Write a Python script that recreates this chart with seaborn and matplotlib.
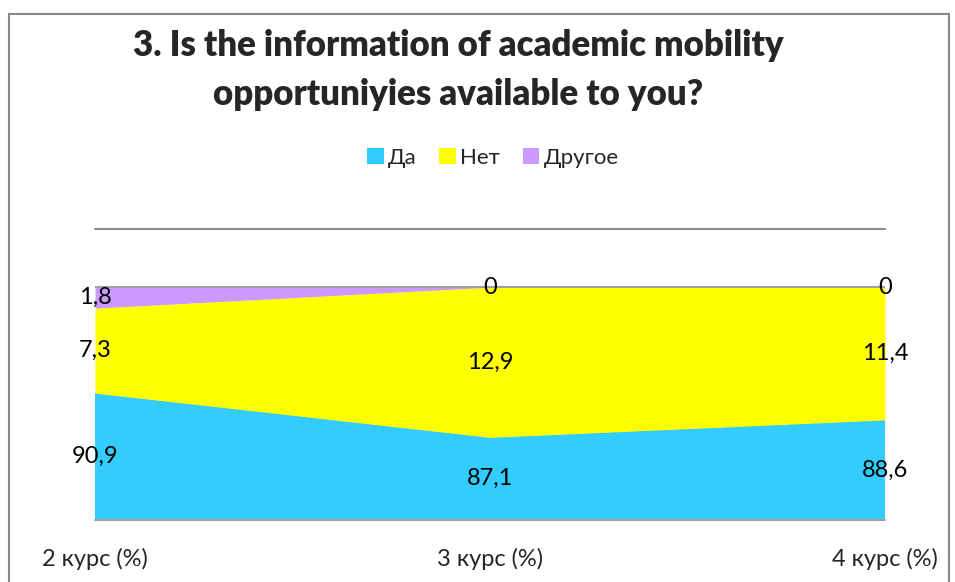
import matplotlib
matplotlib.use("Agg")
import matplotlib.pyplot as plt
import seaborn as sns
from matplotlib.patches import Rectangle

# data
courses = ["2 курс (%)", "3 курс (%)", "4 курс (%)"]
series_names = ["Да", "Нет", "Другое"]
da = [90.9, 87.1, 88.6]
net = [7.3, 12.9, 11.4]
drugoe = [1.8, 0, 0]
colors = ["#33CCFF", "#FFFF00", "#CC99FF"]

sns.set_theme(style="white")
plt.rcParams['font.family'] = ['Lato', 'DejaVu Sans']

fig = plt.figure(figsize=(9.55, 5.82), dpi=100)
ax = fig.add_axes([95/955, 1 - 520/582, 790/955, 291/582])

x = list(range(len(courses)))
ax.stackplot(x, da, net, drugoe, colors=colors, labels=series_names, linewidth=0)

ymin, ymax = 80, 105
ax.set_xlim(0, len(courses) - 1)
ax.set_ylim(ymin, ymax)

# gridlines / axis line
ax.axhline(100, color="#A0A0A0", lw=1.5, zorder=3)
ax.axhline(105, color="#8C8C8C", lw=1.5, zorder=3, clip_on=False)
ax.axhline(80, color="#A0A0A0", lw=1.5, zorder=3, clip_on=False)

# value labels in the middle of each visible band
for i in x:
    bottom = 0
    for vals in (da, net, drugoe):
        top = bottom + vals[i]
        mid = (max(bottom, ymin) + top) / 2
        txt = f"{vals[i]:g}".replace(".", ",")
        ax.text(i, mid, txt, ha="center", va="center", fontsize=17, color="black", zorder=4)
        bottom = top

sns.despine(ax=ax, left=True, bottom=True)
ax.set_yticks([])
ax.set_xticks(x)
ax.set_xticklabels(courses, fontsize=17)
ax.tick_params(axis="x", length=0, pad=20)

fig.text(458/955, 1 - 70/582, "3. Is the information of academic mobility\nopportuniyies available to you?",
         ha="center", va="center", fontsize=25, fontweight="heavy", linespacing=1.58)

handles, labels = ax.get_legend_handles_labels()
fig.legend(handles, labels, loc="center", bbox_to_anchor=(493/955, 1 - 158/582), ncol=3,
           frameon=False, fontsize=16, handlelength=0.75, handleheight=0.75,
           handletextpad=0.2, columnspacing=1.0)

fig.patches.append(Rectangle((9/955, -0.05), 940/955, 1 - 14/582 + 0.05, transform=fig.transFigure,
                             fill=False, edgecolor="#888888", lw=1.5))

fig.savefig("out.png", dpi=100)
